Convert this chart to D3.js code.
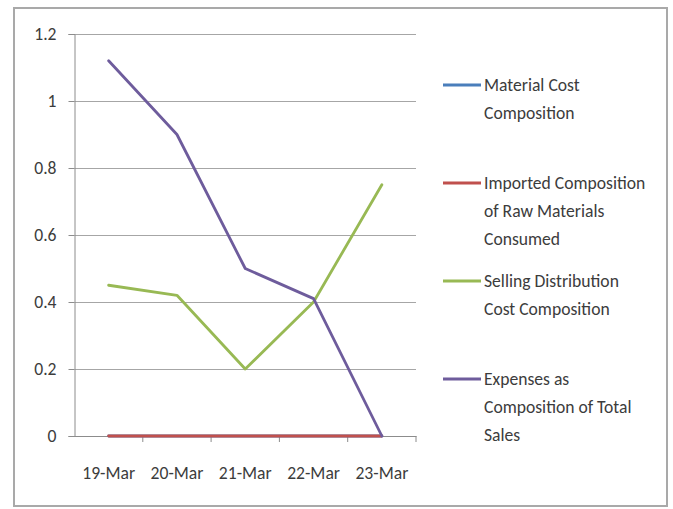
<!DOCTYPE html>
<html>
<head>
<meta charset="utf-8">
<script src="https://cdn.jsdelivr.net/npm/d3@7"></script>
<style>
  html, body { margin: 0; padding: 0; background: #ffffff; }
  svg { display: block; }
  text { font-family: Carlito, Lato, "Liberation Sans", sans-serif; fill: #3c3c3c; }
</style>
</head>
<body>
<svg id="chart" width="673" height="509"></svg>
<script>
// Dates on the category axis
const categories = ["19-Mar", "20-Mar", "21-Mar", "22-Mar", "23-Mar"];

// Composition ratios per date
const materialCost = [0, 0, 0, 0, 0];
const importedRawMaterials = [0, 0, 0, 0, 0];
const sellingDistribution = [0.45, 0.42, 0.20, 0.40, 0.75];
const expensesOfSales = [1.12, 0.90, 0.50, 0.41, 0];

const yTicks = [0, 0.2, 0.4, 0.6, 0.8, 1, 1.2];

const seriesNames = [
  ["Material Cost", "Composition"],
  ["Imported Composition", "of Raw Materials", "Consumed"],
  ["Selling Distribution", "Cost Composition"],
  ["Expenses as", "Composition of Total", "Sales"]
];
const seriesColors = ["#4a7ebb", "#c0504d", "#98b954", "#6e5c9c"];
const seriesValues = [materialCost, importedRawMaterials, sellingDistribution, expensesOfSales];

const fontSize = "17.6px";

const svg = d3.select("#chart");

// outer chart frame
svg.append("rect")
  .attr("x", 14).attr("y", 8)
  .attr("width", 653).attr("height", 498)
  .attr("fill", "#ffffff")
  .attr("stroke", "#a9a9a9")
  .attr("stroke-width", 2);

const plot = { left: 74.5, right: 416, top: 34, bottom: 436 };

const x = d3.scaleBand()
  .domain(categories)
  .range([plot.left, plot.right])
  .padding(0);

const y = d3.scaleLinear()
  .domain([0, 1.2])
  .range([plot.bottom, plot.top]);

// horizontal gridlines
svg.append("g")
  .selectAll("line")
  .data(yTicks.filter(d => d > 0))
  .join("line")
  .attr("x1", plot.left)
  .attr("x2", plot.right)
  .attr("y1", d => Math.round(y(d)) + 0.5)
  .attr("y2", d => Math.round(y(d)) + 0.5)
  .attr("stroke", "#a6a6a6")
  .attr("stroke-width", 1);

// y axis
const yAxis = svg.append("g")
  .attr("transform", `translate(${plot.left},0)`)
  .call(d3.axisLeft(y).tickValues(yTicks).tickSize(6).tickPadding(12)
    .tickFormat(d => d3.format("~g")(d)));
yAxis.select(".domain").attr("stroke", "#8c8c8c");
yAxis.selectAll(".tick line").attr("stroke", "#8c8c8c");
yAxis.selectAll(".tick text")
  .style("font-size", fontSize)
  .attr("fill", "#3c3c3c");

// x axis with tick marks between categories
const xAxis = svg.append("g")
  .attr("transform", `translate(0,${plot.bottom})`)
  .call(d3.axisBottom(x).tickSize(0).tickPadding(31));
xAxis.select(".domain").attr("stroke", "#8c8c8c");
xAxis.selectAll(".tick text")
  .style("font-size", fontSize)
  .attr("fill", "#3c3c3c");
xAxis.selectAll("line.sep")
  .data(categories)
  .join("line")
  .attr("class", "sep")
  .attr("x1", d => x(d) + x.bandwidth())
  .attr("x2", d => x(d) + x.bandwidth())
  .attr("y1", 0)
  .attr("y2", 6)
  .attr("stroke", "#8c8c8c");

// series lines
const line = d3.line()
  .x((d, i) => x(categories[i]) + x.bandwidth() / 2)
  .y(d => y(d));

svg.append("g")
  .selectAll("path")
  .data(seriesValues)
  .join("path")
  .attr("d", d => line(d))
  .attr("fill", "none")
  .attr("stroke", (d, i) => seriesColors[i])
  .attr("stroke-width", 2.8)
  .attr("stroke-linejoin", "round")
  .attr("stroke-linecap", "round");

// legend
const legendTop = [85, 183, 281, 379];
const legend = svg.append("g");
seriesNames.forEach((lines, i) => {
  const g = legend.append("g").attr("transform", `translate(0,${legendTop[i]})`);
  g.append("line")
    .attr("x1", 443).attr("x2", 481)
    .attr("y1", 0).attr("y2", 0)
    .attr("stroke", seriesColors[i])
    .attr("stroke-width", 2.8);
  lines.forEach((t, j) => {
    g.append("text")
      .attr("x", 484)
      .attr("y", j * 28)
      .attr("dy", "0.35em")
      .style("font-size", fontSize)
      .text(t);
  });
});
</script>
</body>
</html>
